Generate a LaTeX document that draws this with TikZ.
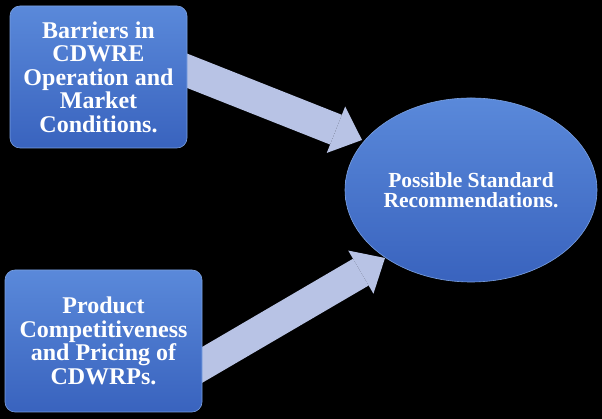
\documentclass[tikz,border=0pt]{standalone}
\usepackage{fontspec}
\setmainfont{Liberation Serif}
\usetikzlibrary{arrows.meta,shapes.geometric}
\pgfdeclarelayer{bglayer}
\pgfdeclarelayer{arrlayer}
\pgfsetlayers{bglayer,arrlayer,main}
\definecolor{boxtop}{RGB}{90,137,218}
\definecolor{boxbot}{RGB}{57,99,190}
\definecolor{arrowfill}{RGB}{184,195,229}
\tikzset{
  bluebox/.style={rectangle, rounded corners=10pt, top color=boxtop, bottom color=boxbot,
    draw=boxtop!80!white, line width=0.6pt, text=white, align=center,
    font=\fontsize{24}{23.5}\selectfont\bfseries, inner sep=0pt},
  blueell/.style={ellipse, top color=boxtop, bottom color=boxbot, draw=boxtop!80!white,
    line width=0.6pt, text=white, align=center,
    font=\fontsize{21.5}{20.5}\selectfont\bfseries, inner sep=0pt},
  fatarrow/.style={draw=arrowfill, line width=#1, line cap=butt,
    -{Triangle[width=50pt,length=28pt,line width=0pt,fill=arrowfill]}}
}
\begin{document}
\begin{tikzpicture}[x=1pt,y=1pt]
\useasboundingbox (0,0) rectangle (602,419);
\begin{pgfonlayer}{bglayer}
\fill[black] (0,0) rectangle (602,419);
\end{pgfonlayer}
\node[bluebox, minimum width=177pt, minimum height=142pt] (b1) at (98.5,342)
  {Barriers in\\CDWRE\\Operation and\\Market\\Conditions.};
\node[bluebox, minimum width=197pt, minimum height=142pt] (b2) at (103.5,78)
  {Product\\Competitiveness\\and Pricing of\\CDWRPs.};
\node[blueell, minimum width=252pt, minimum height=184pt] (e) at (471,229)
  {Possible Standard\\Recommendations.};
\coordinate (s1) at (170,355);
\coordinate (t1) at (362,279);
\coordinate (s2) at (190,47);
\coordinate (t2) at (385,161);
\begin{pgfonlayer}{arrlayer}
\draw[fatarrow=32pt] (s1) -- (t1);
\draw[fatarrow=31pt] (s2) -- (t2);
\end{pgfonlayer}
\end{tikzpicture}
\end{document}
